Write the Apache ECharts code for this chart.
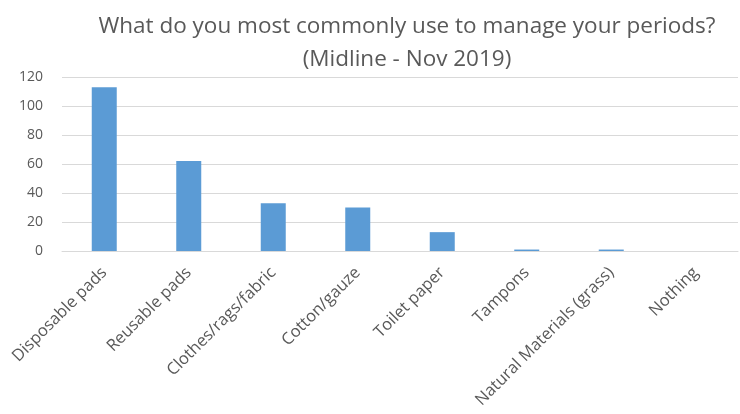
<!DOCTYPE html>
<html><head><meta charset="utf-8">
<script src="https://cdn.jsdelivr.net/npm/echarts@6/dist/echarts.min.js"></script>
<style>html,body{margin:0;padding:0;background:#fff}#c{width:740px;height:414px}</style>
</head><body><div id="c"></div>
<script>
const titleLines = ["What do you most commonly use to manage your periods?", "(Midline - Nov 2019)"];
const categories = ["Disposable pads","Reusable pads","Clothes/rags/fabric","Cotton/gauze","Toilet paper","Tampons","Natural Materials (grass)","Nothing"];
const values = [113, 62, 33, 30, 13, 1, 1, 0];
const yTicks = {min: 0, max: 120, interval: 20};

const chart = echarts.init(document.getElementById('c'));
chart.setOption({
  animation: false,
  title: {
    text: titleLines.join('\n'),
    left: 402, top: 5, textAlign: 'center',
    textStyle: {fontFamily: 'Open Sans', fontSize: 22.5, fontWeight: 'normal', color: '#595959', lineHeight: 33}
  },
  grid: {left: 62, right: 2, top: 77, bottom: 163},
  xAxis: {
    type: 'category', data: categories,
    axisLine: {lineStyle: {color: '#d9d9d9'}},
    axisTick: {show: false},
    axisLabel: {rotate: 45, interval: 0, color: '#595959', fontFamily: 'Open Sans', fontSize: 16.5, margin: 19}
  },
  yAxis: {
    type: 'value', min: yTicks.min, max: yTicks.max, interval: yTicks.interval,
    axisLine: {show: false}, axisTick: {show: false},
    splitLine: {lineStyle: {color: '#d9d9d9'}},
    axisLabel: {color: '#595959', fontFamily: 'Open Sans', fontSize: 14, margin: 19}
  },
  series: [{
    type: 'bar', data: values, barWidth: 25,
    itemStyle: {color: '#5b9bd5'}
  }]
});
</script></body></html>
